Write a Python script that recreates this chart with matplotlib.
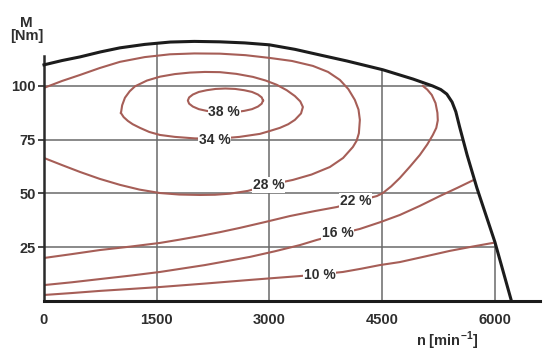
import matplotlib
matplotlib.use("Agg")
import matplotlib.pyplot as plt
from matplotlib.patches import Polygon

plt.rcParams['font.family'] = ['Liberation Sans', 'DejaVu Sans']
plt.rcParams['mathtext.fontset'] = 'custom'
plt.rcParams['mathtext.rm'] = 'Liberation Sans:bold'
plt.rcParams['mathtext.bf'] = 'Liberation Sans:bold'

# full load torque curve  (n [1/min], M [Nm])
full_n = [0, 240, 480, 750, 1010, 1340, 1680, 2000, 2340, 2670, 3000, 3340,
          3670, 4030, 4510, 4910, 5170, 5280, 5360, 5430, 5480, 5530, 5630,
          5760, 5880, 6000, 6220]
full_m = [109.8, 111.8, 113.5, 115.8, 117.7, 119.3, 120.4, 120.7, 120.5,
          120.0, 119.1, 117.0, 114.4, 111.6, 107.5, 103.2, 100.0, 98.3, 96.2,
          92.5, 88.0, 81.0, 67.9, 52.6, 40.0, 27.4, 0]

# efficiency contours
eff38_n = [2914, 2897, 2847, 2768, 2664, 2544, 2414, 2284, 2164, 2060, 1981,
           1931, 1914, 1931, 1981, 2060, 2164, 2284, 2414, 2544, 2664, 2768,
           2847, 2897, 2914]
eff38_m = [93.2, 94.65, 96.0, 97.2, 98.0, 98.6, 98.8, 98.6, 98.0, 97.2, 96.0,
           94.65, 93.2, 91.75, 90.4, 89.2, 88.4, 87.8, 87.6, 87.8, 88.4, 89.2,
           90.4, 91.75, 93.2]

eff34_n = [1024, 1040, 1077, 1140, 1210, 1370, 1543, 1740, 1942, 2140, 2341,
           2560, 2780, 2950, 3099, 3230, 3338, 3410, 3445, 3420, 3338, 3250,
           3139, 3000, 2873, 2600, 2300, 2008, 1742, 1543, 1400, 1277, 1180,
           1117, 1060, 1024]
eff34_m = [87.4, 91.0, 94.5, 97.5, 99.8, 102.5, 104.3, 105.5, 106.2, 106.5,
           106.4, 105.6, 104.2, 102.5, 100.5, 98.0, 95.3, 92.8, 90.2, 87.2,
           84.2, 82.2, 80.5, 79.0, 77.7, 76.3, 75.4, 75.6, 76.3, 77.2, 78.6,
           80.5, 82.2, 83.7, 85.5, 87.4]

eff28_n = [0, 240, 479, 740, 1011, 1340, 1676, 2000, 2341, 2680, 3006, 3300,
           3578, 3780, 3937, 4050, 4136, 4185, 4203, 4190, 4160, 4110, 3980,
           3804, 3560, 3312, 3000, 2713, 2474, 2275, 2075, 1800, 1543, 1270,
           1011, 740, 479, 240, 0]
eff28_m = [99.1, 102.3, 105.1, 108.3, 111.2, 113.4, 114.7, 115.1, 115.0,
           114.3, 113.0, 111.6, 109.3, 106.5, 102.8, 98.5, 93.5, 89.0, 84.2,
           78.0, 74.5, 71.6, 66.5, 62.3, 58.8, 56.3, 54.0, 51.2, 49.9, 49.4,
           49.3, 49.5, 50.2, 51.8, 54.0, 56.8, 60.0, 63.2, 66.5]

eff22_n = [0, 370, 745, 1150, 1543, 1800, 2075, 2340, 2607, 2940, 3272, 3600,
           3897, 4150, 4429, 4509, 4620, 4735, 4870, 5001, 5100, 5174, 5220,
           5240, 5235, 5210, 5160, 5100, 5041]
eff22_m = [20.0, 21.8, 23.7, 25.3, 27.0, 28.5, 30.2, 32.0, 34.0, 36.7, 39.5,
           41.8, 43.7, 46.2, 48.8, 50.2, 53.3, 57.2, 62.5, 67.9, 72.8, 77.2,
           80.5, 84.0, 87.5, 92.0, 95.8, 98.3, 100.0]

eff16_n = [0, 370, 745, 1150, 1543, 2140, 2740, 3070, 3405, 3631, 3910, 4203,
           4470, 4735, 5000, 5267, 5500, 5719]
eff16_m = [7.4, 8.7, 10.2, 11.8, 13.5, 16.7, 20.5, 23.1, 26.0, 28.4, 31.0,
           33.5, 36.6, 40.0, 44.2, 48.8, 52.6, 56.3]

eff10_n = [0, 370, 745, 1150, 1543, 2140, 2740, 3070, 3405, 3671, 3977, 4220,
           4469, 4735, 5070, 5400, 5700, 5972]
eff10_m = [2.8, 3.7, 4.7, 5.6, 6.5, 8.1, 9.8, 10.7, 11.6, 12.4, 13.5, 15.0,
           16.7, 18.1, 20.7, 23.3, 25.3, 27.0]

contour_labels = ["38 %", "34 %", "28 %", "22 %", "16 %", "10 %"]
label_n = [2400, 2274, 2993, 4150, 3910, 3671]
label_m = [87.9, 74.9, 54.0, 46.5, 31.6, 12.1]

xticks = [0, 1500, 3000, 4500, 6000]
yticks = [25, 50, 75, 100]

text_col = "#2e2e2e"
brown = "#a65e57"

fig = plt.figure(figsize=(5.45, 3.53), dpi=100)
ax = fig.add_axes([44/545, 52/353, 496/545, 271/353])
ax.set_xlim(0, 6600)
ax.set_ylim(0, 126)

# area below full load curve, used to clip the grid
clip = Polygon(list(zip([0] + full_n, [0] + full_m)), closed=True,
               transform=ax.transData, facecolor="none", edgecolor="none")

for x in xticks[1:]:
    ln = ax.axvline(x, color="#6a6a6a", lw=1.1, zorder=1)
    ln.set_clip_path(clip)
for y in yticks:
    ln = ax.axhline(y, color="#6a6a6a", lw=1.1, zorder=1)
    ln.set_clip_path(clip)

for cn, cm in [(eff38_n, eff38_m), (eff34_n, eff34_m), (eff28_n, eff28_m),
               (eff22_n, eff22_m), (eff16_n, eff16_m), (eff10_n, eff10_m)]:
    ax.plot(cn, cm, color=brown, lw=1.5, zorder=2, solid_joinstyle="round")

ax.plot(full_n, full_m, color="#1c1c1c", lw=2.2, zorder=4,
        solid_joinstyle="round", clip_on=False)

for lab, ln_, lm in zip(contour_labels, label_n, label_m):
    ax.text(ln_, lm, lab, ha="center", va="center", fontsize=10,
            fontweight="bold", color=text_col, zorder=3,
            bbox=dict(boxstyle="square,pad=0.05", fc="white", ec="none"))

for s in ["top", "right"]:
    ax.spines[s].set_visible(False)
ax.spines["left"].set_bounds(0, 114)
ax.spines["left"].set_linewidth(1.8)
ax.spines["bottom"].set_linewidth(2.2)
ax.spines["left"].set_color("#2a2a2a")
ax.spines["bottom"].set_color("#1c1c1c")

ax.set_xticks(xticks)
ax.set_xticklabels([str(v) for v in xticks])
ax.set_yticks(yticks)
ax.set_yticklabels([str(v) for v in yticks])
ax.tick_params(axis="x", length=0, pad=9, labelsize=10.5, labelcolor=text_col)
ax.tick_params(axis="y", length=4, width=1.2, pad=2, labelsize=10.5,
               labelcolor=text_col, color="#2a2a2a")
for t in ax.get_xticklabels() + ax.get_yticklabels():
    t.set_fontweight("bold")

fig.text(26/545, 1 - 23/353, "M", ha="center", va="center", fontsize=11,
         fontweight="bold", color=text_col)
fig.text(27/545, 1 - 36/353, "[Nm]", ha="center", va="center", fontsize=10.5,
         fontweight="bold", color=text_col)
fig.text(447/545, 1 - 341/353, r"n [min$^{\mathbf{-1}}$]", ha="center",
         va="center", fontsize=10.5, fontweight="bold", color=text_col)

fig.savefig("out.png", dpi=100)
